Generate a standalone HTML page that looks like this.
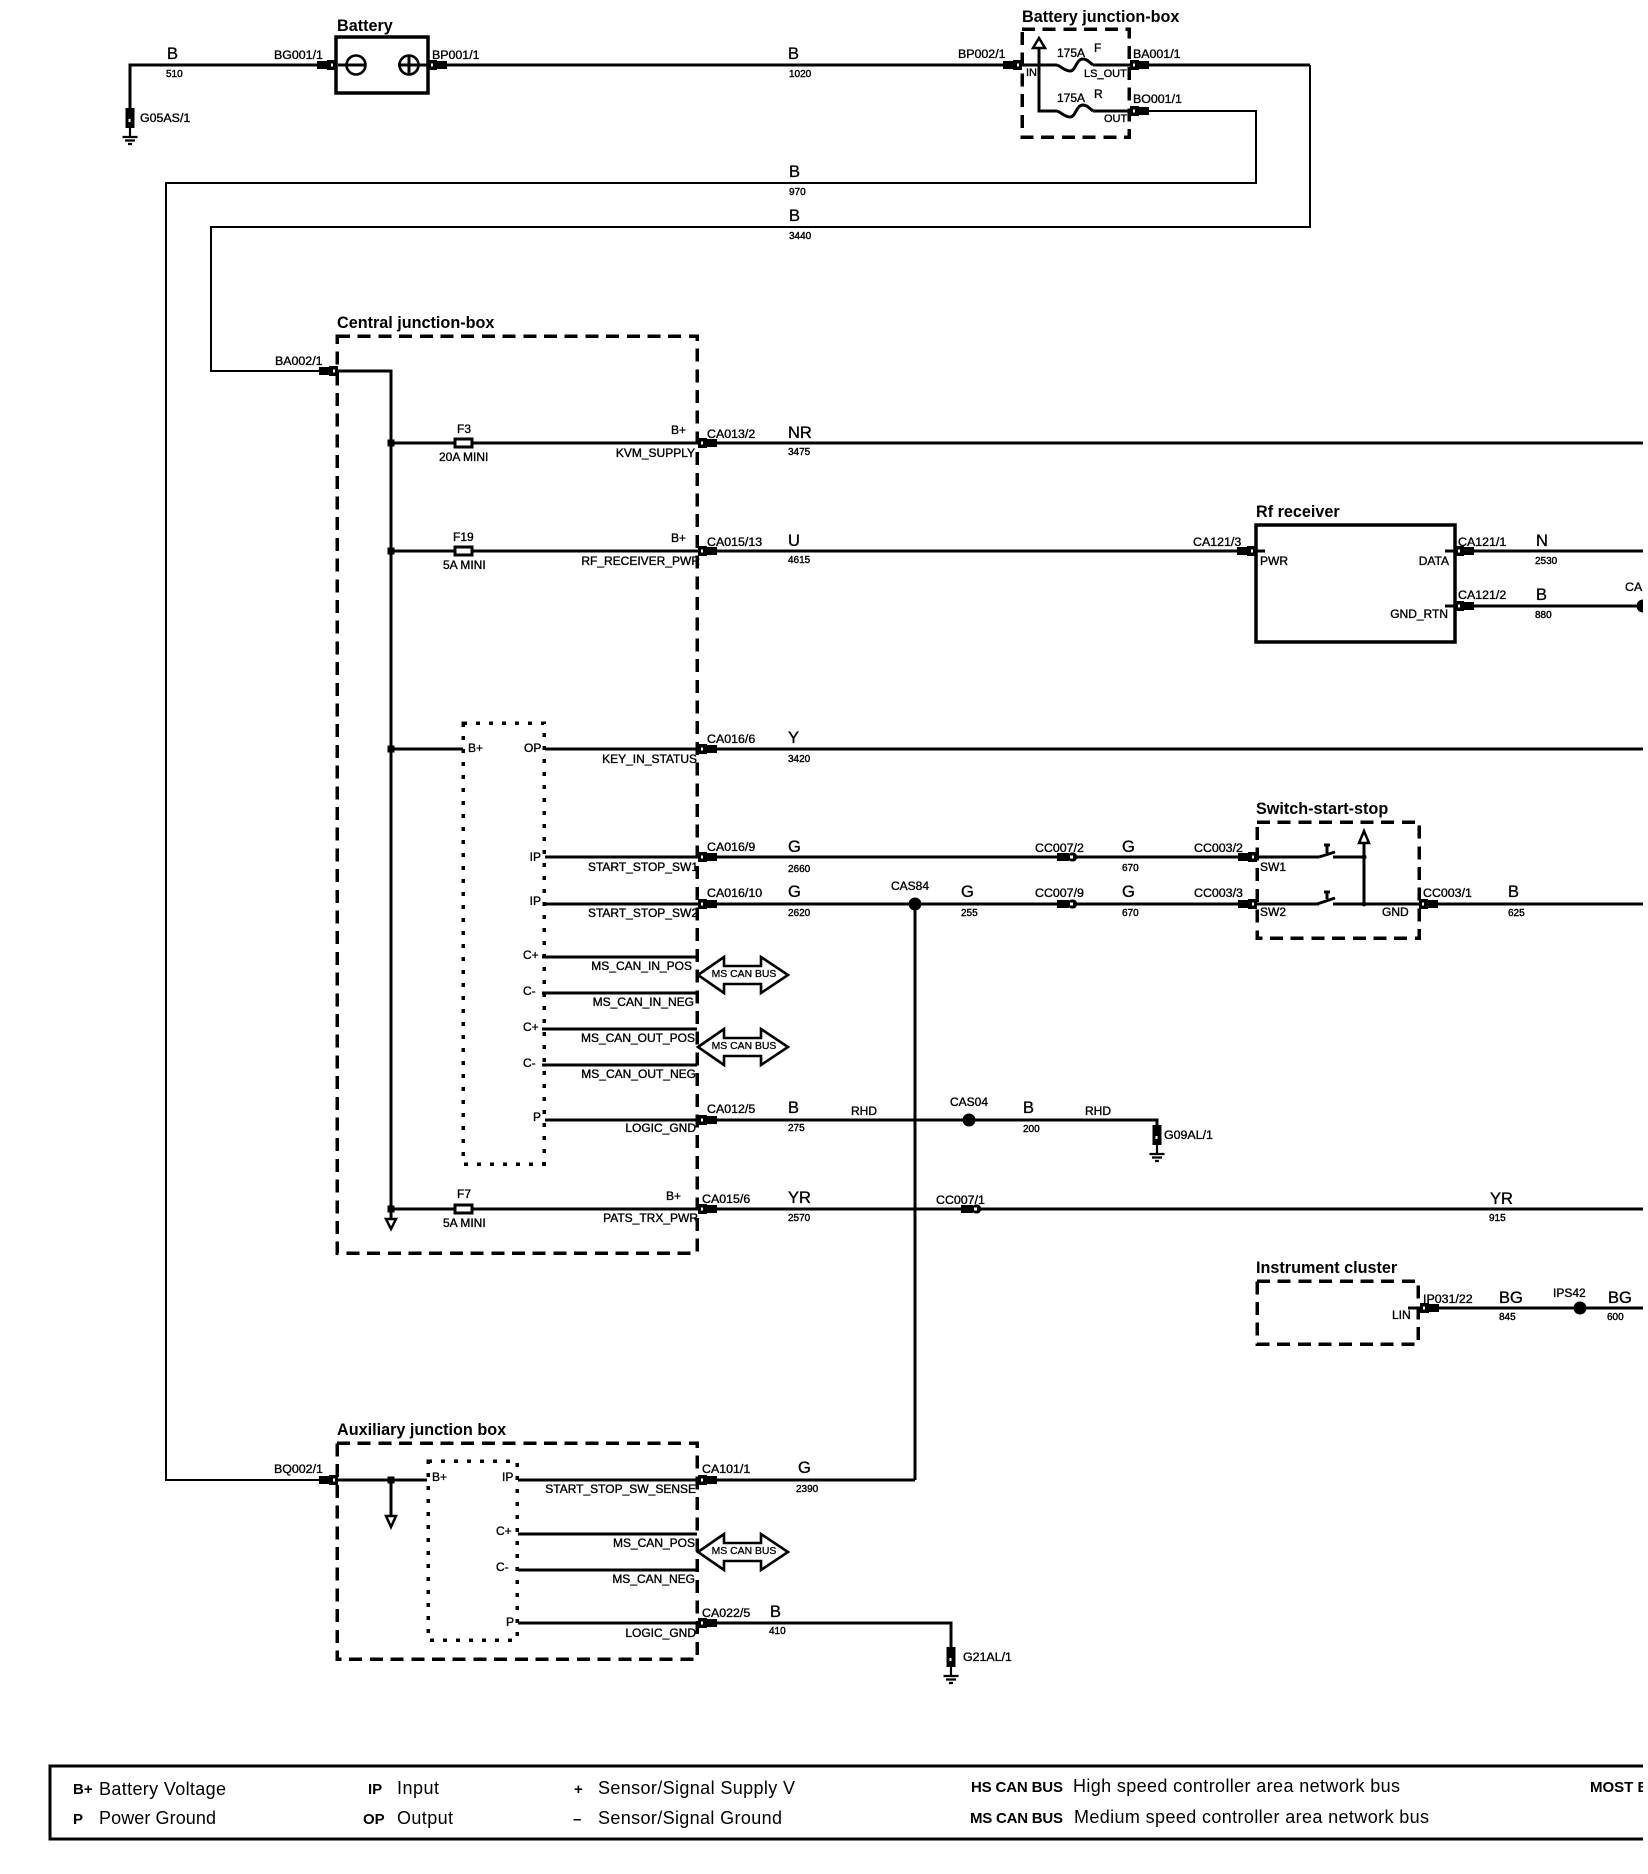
<!DOCTYPE html>
<html><head><meta charset="utf-8"><title>Wiring diagram</title>
<style>
html,body{margin:0;padding:0;background:#fff;width:1648px;height:1874px;overflow:hidden}
svg{display:block}
text{font-family:"Liberation Sans",sans-serif;fill:#000}
.l{font-size:12.4px;stroke:#000;stroke-width:.35px}
.s{font-size:12px;stroke:#000;stroke-width:.35px}
.e{text-anchor:end}
.f{font-size:11px;stroke:#000;stroke-width:.35px}
.c{font-size:16.5px;stroke:#000;stroke-width:.35px}
.n{font-size:10px;stroke:#000;stroke-width:.4px}
.h{font-size:16.2px;font-weight:bold}
.b{font-size:10.4px;text-anchor:middle;stroke:#000;stroke-width:.3px}
.g{font-size:18px}
.k{font-size:15px;font-weight:bold}
.w{fill:none;stroke:#000;stroke-width:3;shape-rendering:crispEdges}
.t{fill:none;stroke:#000;stroke-width:2.4;shape-rendering:crispEdges}
.d{fill:none;stroke:#000;stroke-width:3.5;stroke-dasharray:13 7.7;shape-rendering:crispEdges}
.o{fill:none;stroke:#000;stroke-width:3.5;stroke-dasharray:4 9;shape-rendering:crispEdges}
.a{fill:#fff;stroke:#000;stroke-width:2.5}
.q{fill:#fff;stroke:#000;stroke-width:3;shape-rendering:crispEdges}
.u{fill:#fff;stroke:#000;stroke-width:2.6}
</style></head><body>
<svg width="1648" height="1874" viewBox="0 0 1648 1874" xmlns="http://www.w3.org/2000/svg">
<defs>
<clipPath id="cp"><rect x="0" y="0" width="1643" height="1874"/></clipPath>
<g id="cl"><rect x="-19" y="-4" width="11" height="8"/><rect x="-9" y="-5" width="9" height="10"/><rect x="-5" y="-1.500" width="2" height="3" fill="#fff"/></g>
<g id="cr"><rect x="8" y="-4" width="11" height="8"/><rect x="0" y="-5" width="9" height="10"/><rect x="3" y="-1.500" width="2" height="3" fill="#fff"/></g>
<g id="cm"><rect x="-10" y="-4" width="12" height="8"/><rect x="1" y="-4.500" width="9" height="9" rx="4"/><rect x="3" y="-1.500" width="3" height="3" fill="#fff"/></g>
<g id="gd"><rect x="-4.500" y="0" width="9" height="20"/><rect x="-1.500" y="11" width="2" height="3" fill="#fff"/><path d="M0 20V29M-7.500 29H7.500M-5 32.500H5M-2 36H2" fill="none" stroke="#000" stroke-width="2.2"/></g>
<g id="bus"><path class="u" d="M0 0L26 -18V-9H63V-18L90 0L63 18V9H26V18Z"/></g>
<path id="fz" d="M0 0C5 2 8 6 13 6C19 6 19 -6 26 -6C30 -6 32 -3 36 0" fill="none" stroke="#000" stroke-width="3"/>
</defs>
<g clip-path="url(#cp)">

<!-- top wires -->
<path class="w" d="M130 110V65H336M428 65H1022M1130 65H1310"/>
<path class="t" d="M1310 65V227H211V371H337M1130 111H1256V183H166V1480H337"/>
<use href="#gd" x="130" y="108"/>
<text class="l" x="140" y="122">G05AS/1</text>
<text class="c" x="167" y="59">B</text><text class="n" x="166" y="77">510</text>
<text class="l" x="274" y="59">BG001/1</text>
<use href="#cl" x="336" y="65"/><use href="#cr" x="428" y="65"/>
<text class="h" x="337" y="31">Battery</text>
<rect x="336" y="37" width="92" height="56" fill="#fff" stroke="#000" stroke-width="3.5"/>
<path class="w" d="M338 65H365M398 65H428M409 55V75"/>
<circle cx="356" cy="65" r="9.500" fill="none" stroke="#000" stroke-width="2.6"/>
<circle cx="409" cy="65" r="9.500" fill="none" stroke="#000" stroke-width="2.6"/>
<text class="l" x="432" y="59">BP001/1</text>
<text class="c" x="788" y="59">B</text><text class="n" x="789" y="77">1020</text>
<text class="c" x="789" y="177">B</text><text class="n" x="789" y="195">970</text>
<text class="c" x="789" y="221">B</text><text class="n" x="789" y="239">3440</text>

<!-- Battery junction box -->
<text class="h" x="1022" y="22">Battery junction-box</text>
<rect class="d" x="1022" y="29" width="107" height="108"/>
<path class="w" d="M1022 65H1057M1093 65H1130M1039 48V111H1057M1093 111H1130"/>
<path class="a" d="M1039 38L1045 48H1033Z"/>
<use href="#fz" x="1057" y="65"/><use href="#fz" x="1057" y="111"/>
<use href="#cl" x="1022" y="65"/><use href="#cr" x="1130" y="65"/><use href="#cr" x="1130" y="111"/>
<text class="l" x="958" y="58">BP002/1</text>
<text class="f" x="1026" y="76">IN</text>
<text class="s" x="1057" y="57">175A</text><text class="s" x="1094" y="52">F</text>
<text class="f" x="1084" y="77">LS_OUT</text>
<text class="s" x="1057" y="102">175A</text><text class="s" x="1094" y="98">R</text>
<text class="f" x="1104" y="122">OUT</text>
<text class="l" x="1133" y="58">BA001/1</text>
<text class="l" x="1133" y="103">BO001/1</text>

<!-- Central junction box -->
<text class="h" x="337" y="328">Central junction-box</text>
<rect class="d" x="337" y="336" width="360" height="917"/>
<rect class="o" x="463" y="723" width="81" height="441"/>
<path class="w" d="M337 371H391V1218"/>
<use href="#cl" x="338" y="371"/>
<text class="l" x="275" y="365">BA002/1</text>

<path class="w" d="M391 443H1643M391 551H1237M391 749H463M545 749H1643M545 857H1364M545 904H1364M545 1120H1157V1130M391 1209H1643"/>
<path class="w" d="M542 957H697M542 993H697M542 1029H697M542 1065H697"/>
<g>
<rect x="387.500" y="439.500" width="7" height="7"/><rect x="387.500" y="547.500" width="7" height="7"/><rect x="387.500" y="745.500" width="7" height="7"/><rect x="387.500" y="1205.500" width="7" height="7"/>
</g>
<path class="a" d="M391 1229L396 1219H386Z"/>

<rect class="q" x="455" y="439" width="17" height="8"/>
<rect class="q" x="455" y="547" width="17" height="8"/>
<rect class="q" x="455" y="1205" width="17" height="8"/>
<text class="s" x="457" y="433">F3</text><text class="s" x="439" y="461">20A MINI</text>
<text class="s" x="453" y="541">F19</text><text class="s" x="443" y="569">5A MINI</text>
<text class="s" x="457" y="1198">F7</text><text class="s" x="443" y="1227">5A MINI</text>

<text class="s e" x="686" y="434">B+</text><text class="s e" x="695" y="457">KVM_SUPPLY</text>
<text class="s e" x="686" y="542">B+</text><text class="s e" x="700" y="565">RF_RECEIVER_PWR</text>
<text class="s" x="468" y="752">B+</text><text class="s" x="524" y="752">OP</text>
<text class="s e" x="697" y="763">KEY_IN_STATUS</text>
<text class="s e" x="541" y="861">IP</text><text class="s e" x="698" y="871">START_STOP_SW1</text>
<text class="s e" x="541" y="905">IP</text><text class="s e" x="698" y="917">START_STOP_SW2</text>
<text class="s" x="523" y="959">C+</text><text class="s e" x="692" y="970">MS_CAN_IN_POS</text>
<text class="s" x="523" y="995">C-</text><text class="s e" x="694" y="1006">MS_CAN_IN_NEG</text>
<text class="s" x="523" y="1031">C+</text><text class="s e" x="695" y="1042">MS_CAN_OUT_POS</text>
<text class="s" x="523" y="1067">C-</text><text class="s e" x="696" y="1078">MS_CAN_OUT_NEG</text>
<text class="s e" x="541" y="1121">P</text><text class="s e" x="696" y="1132">LOGIC_GND</text>
<text class="s e" x="681" y="1200">B+</text><text class="s e" x="698" y="1222">PATS_TRX_PWR</text>

<use href="#bus" x="698" y="975"/><text class="b" x="744" y="977">MS CAN BUS</text>
<use href="#bus" x="698" y="1047"/><text class="b" x="744" y="1049">MS CAN BUS</text>

<use href="#cr" x="698" y="443"/><use href="#cr" x="698" y="551"/><use href="#cr" x="698" y="749"/>
<use href="#cr" x="698" y="857"/><use href="#cr" x="698" y="904"/><use href="#cr" x="698" y="1120"/><use href="#cr" x="698" y="1209"/>

<text class="l" x="707" y="438">CA013/2</text><text class="c" x="788" y="438">NR</text><text class="n" x="788" y="455">3475</text>
<text class="l" x="707" y="546">CA015/13</text><text class="c" x="788" y="546">U</text><text class="n" x="788" y="563">4615</text>
<text class="l" x="707" y="743">CA016/6</text><text class="c" x="788" y="743">Y</text><text class="n" x="788" y="762">3420</text>
<text class="l" x="707" y="851">CA016/9</text><text class="c" x="788" y="852">G</text><text class="n" x="788" y="872">2660</text>
<text class="l" x="707" y="897">CA016/10</text><text class="c" x="788" y="897">G</text><text class="n" x="788" y="916">2620</text>
<text class="l" x="707" y="1113">CA012/5</text><text class="c" x="788" y="1113">B</text><text class="n" x="788" y="1131">275</text>
<text class="l" x="702" y="1203">CA015/6</text><text class="c" x="788" y="1203">YR</text><text class="n" x="788" y="1221">2570</text>

<!-- mid wires -->
<circle cx="915" cy="904" r="6.500"/><path class="w" d="M915 904V1480"/>
<text class="s" x="891" y="890">CAS84</text>
<text class="c" x="961" y="897">G</text><text class="n" x="961" y="916">255</text>
<text class="s" x="851" y="1115">RHD</text>
<circle cx="969" cy="1120" r="6.500"/>
<text class="s" x="950" y="1106">CAS04</text>
<text class="c" x="1023" y="1113">B</text><text class="n" x="1023" y="1132">200</text>
<text class="s" x="1085" y="1115">RHD</text>
<use href="#gd" x="1157" y="1125"/>
<text class="l" x="1164" y="1139">G09AL/1</text>

<use href="#cm" x="1067" y="857"/><use href="#cm" x="1067" y="904"/><use href="#cm" x="971" y="1209"/>
<text class="l" x="1035" y="852">CC007/2</text><text class="l" x="1035" y="897">CC007/9</text><text class="l" x="936" y="1204">CC007/1</text>
<text class="c" x="1122" y="852">G</text><text class="n" x="1122" y="871">670</text>
<text class="c" x="1122" y="897">G</text><text class="n" x="1122" y="916">670</text>
<text class="c" x="1490" y="1204">YR</text><text class="n" x="1489" y="1221">915</text>
<text class="l" x="1194" y="852">CC003/2</text><text class="l" x="1194" y="897">CC003/3</text>

<!-- Switch start stop -->
<text class="h" x="1256" y="814">Switch-start-stop</text>
<rect class="d" x="1257" y="822" width="162" height="116"/>
<path fill="#fff" stroke="none" d="M1319 850H1333V912H1319Z"/>
<path fill="none" stroke="#000" stroke-width="3" d="M1319 857L1335 852M1317 904L1335 898M1327 846V853M1324 845H1330M1324 892H1330M1327 892V899"/>
<path class="w" d="M1364 843V904M1333 857H1364M1333 904H1643"/>
<circle cx="1364" cy="857" r="2.500"/><circle cx="1364" cy="904" r="2.500"/>
<path class="a" d="M1364 831L1369 843H1359Z"/>
<use href="#cl" x="1257" y="857"/><use href="#cl" x="1257" y="904"/><use href="#cr" x="1419" y="904"/>
<text class="s" x="1260" y="871">SW1</text><text class="s" x="1260" y="916">SW2</text><text class="s" x="1382" y="916">GND</text>
<text class="l" x="1423" y="897">CC003/1</text><text class="c" x="1508" y="897">B</text><text class="n" x="1508" y="916">625</text>

<!-- Rf receiver -->
<text class="h" x="1256" y="517">Rf receiver</text>
<rect x="1256" y="525" width="199" height="117" fill="#fff" stroke="#000" stroke-width="3.5"/>
<path class="w" d="M1237 551H1265M1445 551H1643M1445 606H1640"/>
<use href="#cl" x="1256" y="551"/><use href="#cr" x="1455" y="551"/><use href="#cr" x="1455" y="606"/>
<text class="l" x="1193" y="546">CA121/3</text>
<text class="s" x="1260" y="565">PWR</text><text class="s e" x="1449" y="565">DATA</text><text class="s e" x="1448" y="618">GND_RTN</text>
<text class="l" x="1458" y="546">CA121/1</text><text class="c" x="1536" y="546">N</text><text class="n" x="1535" y="564">2530</text>
<text class="l" x="1458" y="599">CA121/2</text><text class="c" x="1536" y="600">B</text><text class="n" x="1535" y="618">880</text>
<text class="l" x="1625" y="591">CA</text>
<circle cx="1643" cy="606" r="6.500"/>

<!-- Instrument cluster -->
<text class="h" x="1256" y="1273">Instrument cluster</text>
<rect class="d" x="1257" y="1281" width="161" height="63"/>
<path class="w" d="M1408 1308H1643"/>
<use href="#cr" x="1420" y="1308"/>
<text class="s" x="1392" y="1319">LIN</text>
<text class="l" x="1423" y="1303">IP031/22</text>
<text class="c" x="1499" y="1303">BG</text><text class="n" x="1499" y="1320">845</text>
<text class="s" x="1553" y="1297">IPS42</text>
<circle cx="1580" cy="1308" r="6.500"/>
<text class="c" x="1608" y="1303">BG</text><text class="n" x="1607" y="1320">600</text>

<!-- Auxiliary junction box -->
<text class="h" x="337" y="1435">Auxiliary junction box</text>
<rect class="d" x="337" y="1443" width="360" height="216"/>
<rect class="o" x="428" y="1461" width="89" height="179"/>
<path class="w" d="M337 1480H427M391 1480V1516M518 1480H915M518 1534H697M518 1570H697M518 1623H951V1649"/>
<rect x="387.500" y="1476.500" width="7" height="7"/>
<path class="a" d="M391 1527L396 1516H386Z"/>
<use href="#cl" x="338" y="1480"/><use href="#cr" x="698" y="1480"/><use href="#cr" x="698" y="1623"/>
<text class="l" x="274" y="1473">BQ002/1</text>
<text class="s" x="432" y="1481">B+</text><text class="s" x="502" y="1481">IP</text>
<text class="s e" x="696" y="1493">START_STOP_SW_SENSE</text>
<text class="s" x="496" y="1535">C+</text><text class="s e" x="695" y="1547">MS_CAN_POS</text>
<text class="s" x="496" y="1571">C-</text><text class="s e" x="695" y="1583">MS_CAN_NEG</text>
<text class="s" x="506" y="1626">P</text><text class="s e" x="696" y="1637">LOGIC_GND</text>
<use href="#bus" x="698" y="1552"/><text class="b" x="744" y="1554">MS CAN BUS</text>
<text class="l" x="702" y="1473">CA101/1</text><text class="c" x="798" y="1473">G</text><text class="n" x="796" y="1492">2390</text>
<text class="l" x="702" y="1617">CA022/5</text><text class="c" x="770" y="1617">B</text><text class="n" x="769" y="1634">410</text>
<use href="#gd" x="951" y="1647"/>
<text class="l" x="963" y="1661">G21AL/1</text>

<!-- Legend -->
<path class="w" d="M1648 1766H50V1839H1648"/>
<text class="k" x="73" y="1794">B+</text><text class="g" x="99" y="1795" textLength="127">Battery Voltage</text>
<text class="k" x="73" y="1824">P</text><text class="g" x="99" y="1824" textLength="117">Power Ground</text>
<text class="k" x="368" y="1794">IP</text><text class="g" x="397" y="1794" textLength="42">Input</text>
<text class="k" x="363" y="1824">OP</text><text class="g" x="397" y="1824" textLength="56">Output</text>
<text class="k" x="574" y="1794">+</text><text class="g" x="598" y="1794" textLength="197">Sensor/Signal Supply V</text>
<text class="k" x="573" y="1824">–</text><text class="g" x="598" y="1824" textLength="184">Sensor/Signal Ground</text>
<text class="k" x="971" y="1792" textLength="92">HS CAN BUS</text><text class="g" x="1073" y="1792" textLength="327">High speed controller area network bus</text>
<text class="k" x="970" y="1823" textLength="93">MS CAN BUS</text><text class="g" x="1074" y="1823" textLength="355">Medium speed controller area network bus</text>
<text class="k" x="1590" y="1792">MOST BUS</text>
</g>
<rect x="1643" y="0" width="5" height="1874" fill="#fff"/>
</svg>
</body></html>
